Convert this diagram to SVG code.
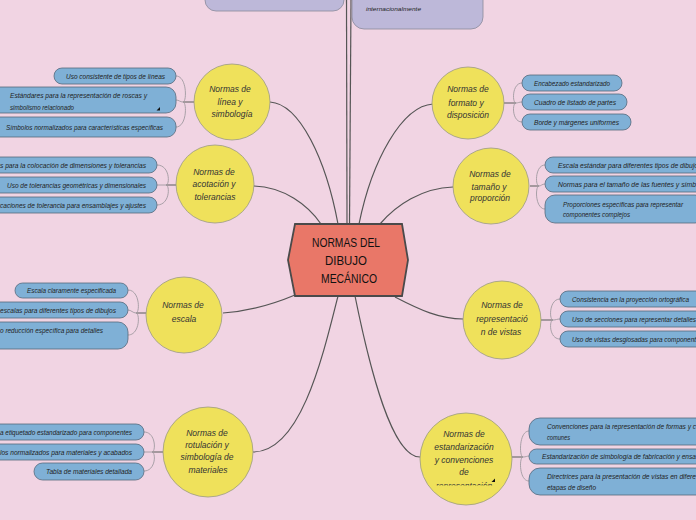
<svg xmlns="http://www.w3.org/2000/svg" width="696" height="520" viewBox="0 0 696 520">
<defs>
<style>
.bg{fill:#f1d4e3}
.main{fill:#e97768;stroke:#4a4a4a;stroke-width:1.8}
.mt{font-family:"Liberation Sans",Arial,sans-serif;font-size:13px;fill:#111;text-anchor:middle}
.c{fill:#efe15b;stroke:#9a9a80;stroke-width:0.8}
.ct{font-family:"Liberation Sans",Arial,sans-serif;font-size:8.5px;font-style:italic;fill:#333;text-anchor:middle}
.b{fill:#7fb0d6;stroke:#56697c;stroke-width:0.8}
.bt{font-family:"Liberation Sans",Arial,sans-serif;font-size:7px;font-style:italic;fill:#222}
.p{fill:#bdb8d9;stroke:#8a8a9a;stroke-width:0.8}
.pt{font-family:"Liberation Sans",Arial,sans-serif;font-size:6px;font-style:italic;fill:#222}
.l1{fill:none;stroke:#555;stroke-width:1.2}
.stub{fill:none;stroke:#666;stroke-width:1.1}
.br{fill:none;stroke:#a09aa0;stroke-width:0.9}
.tri{fill:#111}
</style>
<clipPath id="c8clip"><rect x="400" y="400" width="130" height="85.5"/></clipPath>
</defs>
<rect class="bg" x="0" y="0" width="696" height="520"/>

<g id="connectors">
<path class="l1" d="M347,224 L346.5,0"/>
<path class="l1" d="M349.5,224 L351,0"/>
<path class="l1" d="M270,102 C300,104 326,160 338,224"/>
<path class="l1" d="M254,186 C284,187 308,205 321,224"/>
<path class="l1" d="M433,104 C402,106 372,160 359,224"/>
<path class="l1" d="M453,187 C422,188 396,205 380,224"/>
<path class="l1" d="M223,313 C252,311 276,303 295,295"/>
<path class="l1" d="M395,297 C420,310 440,319 463,319"/>
<path class="l1" d="M338,296 C322,360 300,452 253,452"/>
<path class="l1" d="M355,296 C370,370 392,457 420,457"/>

<path class="stub" d="M194,102 H183"/>
<path class="br" d="M183,102 C187,102 187,76 176,76"/>
<path class="br" d="M183,102 C180,102 179,100 176,100"/>
<path class="br" d="M183,102 C187,102 187,127 176,127"/>

<path class="stub" d="M176,185 H166"/>
<path class="br" d="M166,185 C170,185 170,165 157,165"/>
<path class="br" d="M166,185 H157"/>
<path class="br" d="M166,185 C170,185 170,205 157,205"/>

<path class="stub" d="M504,103 H516"/>
<path class="br" d="M516,103 C512,103 512,83 522,83"/>
<path class="br" d="M516,103 C518,103 519,102 522,102"/>
<path class="br" d="M516,103 C512,103 512,122 522,122"/>

<path class="stub" d="M530,186 H539"/>
<path class="br" d="M539,186 C535,186 535,165 545,165"/>
<path class="br" d="M539,186 C541,186 542,184 545,184"/>
<path class="br" d="M539,186 C535,186 535,209 545,209"/>

<path class="stub" d="M146,313 H136"/>
<path class="br" d="M136,313 C140,313 140,290 128,290"/>
<path class="br" d="M136,313 C133,313 131,310 128,310"/>
<path class="br" d="M136,313 C140,313 140,335 128,335"/>

<path class="stub" d="M541,320 H553"/>
<path class="br" d="M553,320 C549,320 549,299 560,299"/>
<path class="br" d="M553,320 C556,320 557,319 560,319"/>
<path class="br" d="M553,320 C549,320 549,339 560,339"/>

<path class="stub" d="M163,452 H152"/>
<path class="br" d="M152,452 C156,452 156,432 144,432"/>
<path class="br" d="M152,452 H144"/>
<path class="br" d="M152,452 C156,452 156,471 144,471"/>

<path class="stub" d="M512,457 H523"/>
<path class="br" d="M523,457 C519,457 519,431 529,431"/>
<path class="br" d="M523,457 C526,457 527,456 529,456"/>
<path class="br" d="M523,457 C519,457 519,481 529,481"/>
</g>

<g id="top-left">
<rect class="p" x="205" y="-30" width="139" height="41" rx="11"/>
</g>
<g id="top-right">
<rect class="p" x="352" y="-20" width="131" height="49" rx="12"/>
<text class="pt" x="366" y="10.5" textLength="55" lengthAdjust="spacingAndGlyphs">internacionalmente</text>
</g>

<g id="center">
<polygon class="main" points="295,224 402,224 408,260 402,296 295,296 288,260"/>
<text class="mt" x="346" y="247" textLength="68" lengthAdjust="spacingAndGlyphs">NORMAS DEL</text>
<text class="mt" x="346" y="265" textLength="42" lengthAdjust="spacingAndGlyphs">DIBUJO</text>
<text class="mt" x="349" y="283" textLength="56" lengthAdjust="spacingAndGlyphs">MECÁNICO</text>
</g>

<g id="n1">
<circle class="c" cx="232" cy="102" r="38"/>
<text class="ct" x="230" y="92">Normas de</text>
<text class="ct" x="230" y="105">línea y</text>
<text class="ct" x="232" y="117">simbología</text>
</g>
<g id="n1a"><rect class="b" x="54" y="68" width="122" height="16" rx="8"/><text class="bt" x="66" y="78.5" textLength="99" lengthAdjust="spacingAndGlyphs">Uso consistente de tipos de líneas</text></g>
<g id="n1b"><rect class="b" x="-10" y="87" width="186" height="26" rx="10"/><text class="bt" x="10" y="97.5" textLength="137" lengthAdjust="spacingAndGlyphs">Estándares para la representación de roscas y</text><text class="bt" x="10" y="109.5" textLength="64" lengthAdjust="spacingAndGlyphs">simbolismo relacionado</text><polygon class="tri" points="160,107 160,110.5 156.5,110.5"/></g>
<g id="n1c"><rect class="b" x="-10" y="117" width="186" height="20" rx="9"/><text class="bt" x="6" y="129.5" textLength="157" lengthAdjust="spacingAndGlyphs">Símbolos normalizados para características específicas</text></g>

<g id="n2">
<circle class="c" cx="215" cy="184" r="39"/>
<text class="ct" x="214" y="175">Normas de</text>
<text class="ct" x="214" y="187">acotación y</text>
<text class="ct" x="215" y="200">tolerancias</text>
</g>
<g id="n2a"><rect class="b" x="-10" y="157" width="167" height="16" rx="8"/><text class="bt" x="0" y="167.5" textLength="146" lengthAdjust="spacingAndGlyphs">s para la colocación de dimensiones y tolerancias</text></g>
<g id="n2b"><rect class="b" x="-10" y="177" width="167" height="16" rx="8"/><text class="bt" x="7" y="187.5" textLength="139" lengthAdjust="spacingAndGlyphs">Uso de tolerancias geométricas y dimensionales</text></g>
<g id="n2c"><rect class="b" x="-10" y="197" width="167" height="16" rx="8"/><text class="bt" x="0" y="207.5" textLength="146" lengthAdjust="spacingAndGlyphs">caciones de tolerancia para ensamblajes y ajustes</text></g>

<g id="n3">
<circle class="c" cx="468" cy="103" r="36"/>
<text class="ct" x="468" y="92">Normas de</text>
<text class="ct" x="466" y="106">formato y</text>
<text class="ct" x="468" y="118">disposición</text>
</g>
<g id="n3a"><rect class="b" x="522" y="75" width="100" height="16" rx="8"/><text class="bt" x="534" y="85.5" textLength="76" lengthAdjust="spacingAndGlyphs">Encabezado estandarizado</text></g>
<g id="n3b"><rect class="b" x="522" y="94" width="105" height="16" rx="8"/><text class="bt" x="534" y="104.5" textLength="82" lengthAdjust="spacingAndGlyphs">Cuadro de listado de partes</text></g>
<g id="n3c"><rect class="b" x="522" y="114" width="109" height="16" rx="8"/><text class="bt" x="534" y="124.5" textLength="85" lengthAdjust="spacingAndGlyphs">Borde y márgenes uniformes</text></g>

<g id="n4">
<circle class="c" cx="491" cy="186" r="38"/>
<text class="ct" x="490" y="177">Normas de</text>
<text class="ct" x="489" y="190">tamaño y</text>
<text class="ct" x="490" y="201">proporción</text>
</g>
<g id="n4a"><rect class="b" x="545" y="157" width="160" height="16" rx="8"/><text class="bt" x="558" y="167.5" textLength="140" lengthAdjust="spacingAndGlyphs">Escala estándar para diferentes tipos de dibujo</text></g>
<g id="n4b"><rect class="b" x="545" y="176" width="160" height="16" rx="8"/><text class="bt" x="558" y="186.5" textLength="138" lengthAdjust="spacingAndGlyphs">Normas para el tamaño de las fuentes y símb</text></g>
<g id="n4c"><rect class="b" x="545" y="195" width="160" height="28" rx="10"/><text class="bt" x="563" y="206.5" textLength="120" lengthAdjust="spacingAndGlyphs">Proporciones específicas para representar</text><text class="bt" x="563" y="217" textLength="67" lengthAdjust="spacingAndGlyphs">componentes complejos</text></g>

<g id="n5">
<circle class="c" cx="184" cy="315" r="38"/>
<text class="ct" x="183" y="308">Normas de</text>
<text class="ct" x="184" y="322">escala</text>
</g>
<g id="n5a"><rect class="b" x="15" y="283" width="113" height="15" rx="7.5"/><text class="bt" x="27" y="292.5" textLength="89" lengthAdjust="spacingAndGlyphs">Escala claramente especificada</text></g>
<g id="n5b"><rect class="b" x="-10" y="302" width="138" height="16" rx="8"/><text class="bt" x="0" y="312.5" textLength="116" lengthAdjust="spacingAndGlyphs">escalas para diferentes tipos de dibujos</text></g>
<g id="n5c"><rect class="b" x="-10" y="322" width="138" height="27" rx="10"/><text class="bt" x="0" y="332.5" textLength="103" lengthAdjust="spacingAndGlyphs">o reducción específica para detalles</text></g>

<g id="n6">
<circle class="c" cx="502" cy="320" r="39"/>
<text class="ct" x="502" y="308">Normas de</text>
<text class="ct" x="502" y="322">representació</text>
<text class="ct" x="501" y="335">n de vistas</text>
</g>
<g id="n6a"><rect class="b" x="560" y="291" width="145" height="16" rx="8"/><text class="bt" x="572" y="301.5" textLength="117" lengthAdjust="spacingAndGlyphs">Consistencia en la proyección ortográfica</text></g>
<g id="n6b"><rect class="b" x="560" y="311" width="145" height="16" rx="8"/><text class="bt" x="572" y="321.5" textLength="124" lengthAdjust="spacingAndGlyphs">Uso de secciones para representar detalles</text></g>
<g id="n6c"><rect class="b" x="560" y="331" width="145" height="16" rx="8"/><text class="bt" x="572" y="341.5" textLength="124" lengthAdjust="spacingAndGlyphs">Uso de vistas desglosadas para component</text></g>

<g id="n7">
<circle class="c" cx="208" cy="452" r="45"/>
<text class="ct" x="207" y="436">Normas de</text>
<text class="ct" x="207" y="448">rotulación y</text>
<text class="ct" x="207" y="460">simbología de</text>
<text class="ct" x="208" y="473">materiales</text>
</g>
<g id="n7a"><rect class="b" x="-10" y="424" width="154" height="16" rx="8"/><text class="bt" x="0" y="434.5" textLength="132" lengthAdjust="spacingAndGlyphs">a etiquetado estandarizado para componentes</text></g>
<g id="n7b"><rect class="b" x="-10" y="444" width="154" height="16" rx="8"/><text class="bt" x="0" y="454.5" textLength="132" lengthAdjust="spacingAndGlyphs">los normalizados para materiales y acabados</text></g>
<g id="n7c"><rect class="b" x="34" y="463" width="110" height="17" rx="8.5"/><text class="bt" x="46" y="473.5" textLength="86" lengthAdjust="spacingAndGlyphs">Tabla de materiales detallada</text></g>

<g id="n8">
<circle class="c" cx="466" cy="459" r="46"/>
<g clip-path="url(#c8clip)">
<text class="ct" x="464" y="437">Normas de</text>
<text class="ct" x="464" y="450">estandarización</text>
<text class="ct" x="464" y="463">y convenciones</text>
<text class="ct" x="464" y="475">de</text>
<text class="ct" x="464" y="488.5">representación</text>
</g>
<polygon class="tri" points="495,478.5 495,482 491.5,482"/>
</g>
<g id="n8a"><rect class="b" x="529" y="418" width="180" height="27" rx="11"/><text class="bt" x="547" y="428.5" textLength="149" lengthAdjust="spacingAndGlyphs">Convenciones para la representación de formas y c</text><text class="bt" x="547" y="439.5" textLength="23" lengthAdjust="spacingAndGlyphs">comunes</text></g>
<g id="n8b"><rect class="b" x="529" y="449" width="180" height="15" rx="7.5"/><text class="bt" x="542" y="458.5" textLength="154" lengthAdjust="spacingAndGlyphs">Estandarización de simbología de fabricación y ensa</text></g>
<g id="n8c"><rect class="b" x="529" y="468" width="180" height="27" rx="11"/><text class="bt" x="547" y="478.5" textLength="149" lengthAdjust="spacingAndGlyphs">Directrices para la presentación de vistas en difere</text><text class="bt" x="547" y="489.5" textLength="49" lengthAdjust="spacingAndGlyphs">etapas de diseño</text></g>
</svg>
